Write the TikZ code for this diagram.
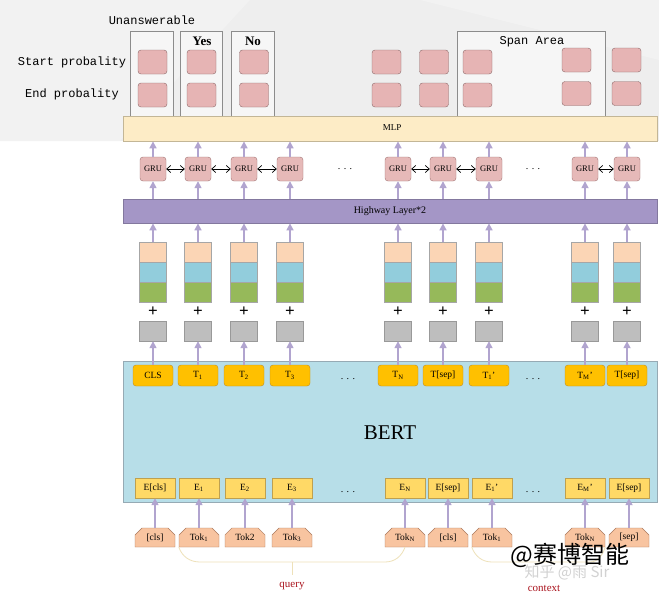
\documentclass[tikz,border=0pt]{standalone}
\usepackage{fontspec}
\setmainfont{Liberation Serif}
\setmonofont{Liberation Mono}
\newfontfamily\cjk{Noto Sans CJK SC}
\usetikzlibrary{arrows.meta,shapes.misc}
\definecolor{bgtop}{RGB}{238,238,238}
\definecolor{sqfill}{RGB}{230,180,180}
\definecolor{sqdraw}{RGB}{140,105,105}
\definecolor{boxdraw}{RGB}{140,140,140}
\definecolor{mlpfill}{RGB}{253,236,198}
\definecolor{mlpdraw}{RGB}{195,182,150}
\definecolor{hwfill}{RGB}{164,150,198}
\definecolor{arrc}{RGB}{177,164,207}
\definecolor{grufill}{RGB}{230,185,184}
\definecolor{grudraw}{RGB}{160,115,115}
\definecolor{peach}{RGB}{251,213,181}
\definecolor{bluec}{RGB}{146,205,220}
\definecolor{greenc}{RGB}{150,185,90}
\definecolor{grayb}{RGB}{190,190,190}
\definecolor{bertfill}{RGB}{183,222,232}
\definecolor{bertdraw}{RGB}{150,170,180}
\definecolor{tfill}{RGB}{255,192,0}
\definecolor{tdraw}{RGB}{190,140,40}
\definecolor{efill}{RGB}{255,217,102}
\definecolor{edraw}{RGB}{190,160,80}
\definecolor{tokfill}{RGB}{248,196,160}
\definecolor{tokdraw}{RGB}{170,120,90}
\definecolor{bracec}{RGB}{238,225,185}
\definecolor{redt}{RGB}{170,20,30}
\tikzset{
  sq/.style={draw=sqdraw,fill=sqfill,rounded corners=3pt,minimum width=29pt,minimum height=24pt,inner sep=0pt},
  areabox/.style={draw=boxdraw,fill=white!50!bgtop,line width=0.7pt},
  lbl/.style={font=\ttfamily\fontsize{12}{12}\selectfont,inner sep=0pt},
  upar/.style={draw=arrc,line width=1.6pt,-{Triangle[length=7pt,width=7pt]}},
  gru/.style={draw=grudraw,fill=grufill,rounded corners=3pt,minimum width=26pt,minimum height=24pt,inner sep=0pt,font=\fontsize{8.5}{8.5}\selectfont},
  stk/.style={draw=gray!70,minimum width=27pt,minimum height=20pt,inner sep=0pt},
  grayb/.style={draw=gray!80,fill=grayb,minimum width=27pt,minimum height=20pt,inner sep=0pt},
  tbox/.style={draw=tdraw,fill=tfill,rounded corners=3pt,minimum width=40pt,minimum height=21pt,inner sep=0pt,font=\fontsize{9.5}{9.5}\selectfont},
  ebox/.style={draw=edraw,fill=efill,minimum width=40pt,minimum height=20pt,inner sep=0pt,font=\fontsize{9.5}{9.5}\selectfont},
  tokbox/.style={chamfered rectangle,chamfered rectangle corners={north west,north east},chamfered rectangle xsep=3.5pt,chamfered rectangle ysep=3.5pt,draw=tokdraw,fill=tokfill,minimum width=40pt,minimum height=19pt,inner sep=0pt,font=\fontsize{9.5}{9.5}\selectfont},
  dots/.style={font=\fontsize{10}{10}\selectfont,inner sep=0pt},
  brace/.style={draw=bracec,line width=0.8pt}
}
\begin{document}
\begin{tikzpicture}[x=1pt,y=-1pt]
\useasboundingbox (0,0) rectangle (659,600);
\fill[white] (0,0) rectangle (659,600);
\fill[bgtop] (0,0) rectangle (659,141);
\fill[white!25!bgtop] (0,0) -- (250,0) -- (120,141) -- (0,141) -- cycle;
\fill[white!25!bgtop] (420,0) -- (659,0) -- (659,60) -- cycle;

% area boxes
\draw[areabox] (130,31) rectangle (173,116);
\draw[areabox] (180,31) rectangle (222,116);
\draw[areabox] (231,31) rectangle (274,116);
\draw[areabox] (457,31) rectangle (605,116);
\node[lbl] (unans) at (152,20) {Unanswerable};
\node[font=\bfseries\fontsize{13}{13}\selectfont,inner sep=0pt] (yes) at (202,41) {Yes};
\node[font=\bfseries\fontsize{13}{13}\selectfont,inner sep=0pt] (no) at (253,41) {No};
\node[lbl] (span) at (532,42) {Span Area};
\node[lbl] (startp) at (72,62) {Start probality};
\node[lbl] (endp) at (72,94) {End probality};

% probability squares
\foreach \x/\ya/\yb [count=\i] in {152.5/62/95,201.5/62/95,254/62/95,386.5/62/95,434/62/95,477.5/62/95,576.5/60/93.5,626.5/60/93.5}{
  \node[sq] (s\i) at (\x,\ya) {};
  \node[sq] (e\i) at (\x,\yb) {};
}

% MLP
\node[draw=mlpdraw,fill=mlpfill,minimum width=534pt,minimum height=25pt,inner sep=0pt,anchor=north west] (mlp) at (123,116) {};
\node[font=\fontsize{9}{9}\selectfont,inner sep=0pt] (mlpt) at (392,128) {MLP};

% Highway
\node[draw=hwfill!80!black,fill=hwfill,minimum width=534pt,minimum height=24pt,inner sep=0pt,anchor=north west] (hw) at (123,199) {};
\node[font=\fontsize{10}{10}\selectfont,inner sep=0pt] (hwt) at (390,211) {Highway Layer*2};

% BERT
\node[draw=bertdraw,fill=bertfill,minimum width=534pt,minimum height=141pt,inner sep=0pt,anchor=north west] (bert) at (123,361) {};
\node[font=\fontsize{21}{21}\selectfont,inner sep=0pt] (bertt) at (390,433) {BERT};

% top columns
\foreach \x/\tl [count=\i] in {153/CLS,198/T\textsubscript{1},244/T\textsubscript{2},290/T\textsubscript{3},398/T\textsubscript{N},443/T[sep],489/T\textsubscript{1}',585/T\textsubscript{M}',627/T[sep]}{
  \node[gru] (g\i) at (\x,169) {GRU};
  \node[stk,fill=peach] (pa\i) at (\x,252.5) {};
  \node[stk,fill=bluec] (bl\i) at (\x,272.5) {};
  \node[stk,fill=greenc] (gr\i) at (\x,292.5) {};
  \node[font=\bfseries\fontsize{17}{17}\selectfont,inner sep=0pt] (pl\i) at (\x,311.5) {+};
  \node[grayb] (gb\i) at (\x,331) {};
  \node[tbox] (t\i) at (\x,375.5) {\tl};
  \draw[upar] (t\i.north) -- (gb\i.south);
  \draw[upar] (hw.north -| g\i.south) -- (g\i.south);
  \draw[upar] (g\i.north) -- (mlp.south -| g\i.north);
  \draw[upar] (pa\i.north) -- (hw.south -| pa\i.north);
}
\foreach \a/\b in {1/2,2/3,3/4,5/6,6/7,8/9}{
  \draw[{Straight Barb[length=4pt,width=7pt]}-{Straight Barb[length=4pt,width=7pt]},line width=0.7pt] (g\a.east) -- (g\b.west);
}
\node[dots] (gd1) at (345,169) {. . .};
\node[dots] (gd2) at (533,169) {. . .};
\node[dots] (td1) at (348,379) {. . .};
\node[dots] (td2) at (533,379) {. . .};
\node[dots] (ed1) at (348,492) {. . .};
\node[dots] (ed2) at (533,492) {. . .};

% bottom columns
\foreach \x/\el/\tk [count=\i] in {155/{E[cls]}/{[cls]},199/E\textsubscript{1}/Tok\textsubscript{1},245/E\textsubscript{2}/Tok2,292/E\textsubscript{3}/Tok\textsubscript{3},405/E\textsubscript{N}/Tok\textsubscript{N},448/{E[sep]}/{[cls]},492/E\textsubscript{1}'/Tok\textsubscript{1},585/E\textsubscript{M}'/Tok\textsubscript{N},629/{E[sep]}/{[sep]}}{
  \node[ebox] (eb\i) at (\x,488) {\el};
  \node[tokbox] (tk\i) at (\x,537.5) {\tk};
  \draw[upar] (tk\i.north) -- (eb\i.south);
}

% braces
\coordinate (qm) at (292,562);
\coordinate (qs) at (292,575);
\draw[brace] (tk2.south west) to[out=-70,in=180] (200,562) -- (385,562) to[out=0,in=-110] (tk5.south);
\draw[brace] (qm) -- (qs);
\node[font=\fontsize{11}{11}\selectfont,text=redt,inner sep=0pt] (query) at (292,586) {query};
\draw[brace] (tk7.south west) to[out=-70,in=180] (492,562) -- (590,562) to[out=0,in=-110] (tk8.south east);
\node[font=\fontsize{11}{11}\selectfont,text=redt,inner sep=0pt] (context) at (544,588) {context};

% watermark
\node[font=\cjk\fontsize{15}{15}\selectfont,text=gray!35,inner sep=0pt] (wm2) at (567,572) {知乎 @雨 Sir};
\node[font=\cjk\fontsize{24}{24}\selectfont,text=black,inner sep=0pt] (wm1) at (570,555) {@赛博智能};
\end{tikzpicture}
\end{document}
